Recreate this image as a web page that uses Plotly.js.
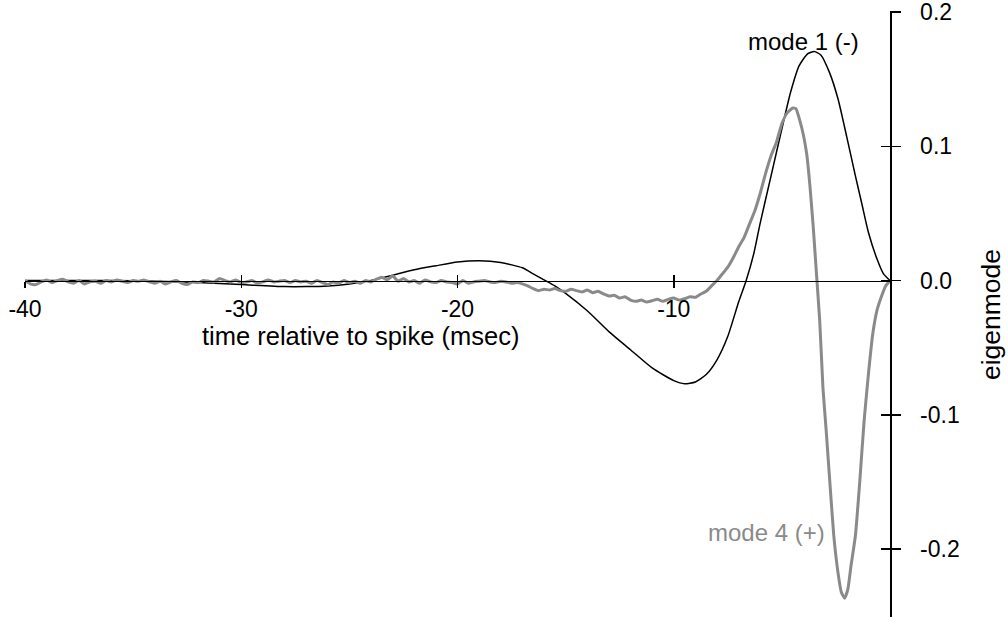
<!DOCTYPE html>
<html>
<head>
<meta charset="utf-8">
<script src="https://cdn.plot.ly/plotly-3.0.1.min.js"></script>
<style>html,body{margin:0;padding:0;background:#fff;}#chart{width:1008px;height:619px;}</style>
</head>
<body>
<div id="chart"></div>
<script>
// ---- data ----
const xTickVals = [-40, -30, -20, -10];
const xTickText = ["-40", "-30", "-20", "-10"];
const yTickVals = [0.2, 0.1, 0.0, -0.1, -0.2];
const yTickText = ["0.2", "0.1", "0.0", "-0.1", "-0.2"];

// mode 1 (-), black smooth curve: time (ms) and value
const mode1Time = [-40, -38, -36, -34, -32, -30, -28, -27, -26, -25, -24, -23, -22, -21, -20, -19, -18, -17, -16.5, -16, -15.5, -15, -14, -13, -12, -11, -10, -9.5, -9, -8.5, -8, -7.5, -7, -6.65, -6.3, -6, -5.5, -5, -4.6, -4.2, -3.8, -3.5, -3.2, -2.8, -2.4, -2, -1.6, -1.3, -1, -0.6, -0.3, 0];
const mode1Value = [0, 0, 0, -0.0005, -0.0015, -0.003, -0.0045, -0.0045, -0.004, -0.0025, 0, 0.004, 0.008, 0.011, 0.0138, 0.0148, 0.0135, 0.0095, 0.005, 0.0005, -0.004, -0.0095, -0.0225, -0.038, -0.0515, -0.065, -0.0745, -0.0768, -0.0755, -0.070, -0.059, -0.0415, -0.016, 0, 0.02, 0.043, 0.078, 0.113, 0.14, 0.16, 0.169, 0.1705, 0.168, 0.155, 0.135, 0.107, 0.078, 0.057, 0.036, 0.016, 0.005, 0];

// mode 4 (+), grey noisy curve: time (ms) and value
const mode4Time = [-40, -39.75, -39.5, -39.25, -39, -38.75, -38.5, -38.25, -38, -37.75, -37.5, -37.25, -37, -36.75, -36.5, -36.25, -36, -35.75, -35.5, -35.25, -35, -34.75, -34.5, -34.25, -34, -33.75, -33.5, -33.25, -33, -32.75, -32.5, -32.25, -32, -31.75, -31.5, -31.25, -31, -30.75, -30.5, -30.25, -30, -29.75, -29.5, -29.25, -29, -28.75, -28.5, -28.25, -28, -27.75, -27.5, -27.25, -27, -26.75, -26.5, -26.25, -26, -25.75, -25.5, -25.25, -25, -24.75, -24.5, -24.25, -24, -23.75, -23.5, -23.25, -23, -22.75, -22.5, -22.25, -22, -21.75, -21.5, -21.25, -21, -20.75, -20.5, -20.25, -20, -19.75, -19.5, -19.25, -19, -18.75, -18.5, -18.25, -18, -17.75, -17.5, -17.25, -17, -16.75, -16.5, -16.25, -16, -15.75, -15.5, -15.25, -15, -14.75, -14.5, -14.25, -14, -13.75, -13.5, -13.25, -13, -12.75, -12.5, -12.25, -12, -11.75, -11.5, -11.25, -11, -10.75, -10.5, -10.25, -10, -9.75, -9.5, -9.25, -9, -8.75, -8.5, -8.25, -8, -7.75, -7.5, -7.25, -7, -6.75, -6.5, -6.25, -6, -5.75, -5.5, -5.25, -5, -4.75, -4.5, -4.35, -4.15, -4, -3.85, -3.7, -3.55, -3.4, -3.25, -3.1, -2.95, -2.8, -2.6, -2.4, -2.25, -2.1, -1.95, -1.8, -1.6, -1.4, -1.2, -1.0, -0.8, -0.6, -0.4, -0.2, 0];
const mode4Value = [0, -0.0025, -0.003, -0.001, 0.0005, -0.0015, 0, 0.001, -0.001, -0.002, 0, -0.0025, -0.001, -0.0005, -0.002, 0, -0.001, 0.0005, -0.0005, -0.0015, 0, -0.0005, 0.0005, -0.001, -0.002, -0.0005, -0.0025, -0.001, 0, -0.002, -0.003, -0.001, -0.0015, 0, -0.0005, -0.001, 0.0015, 0, -0.001, 0.0005, -0.0015, -0.001, 0, -0.002, -0.001, 0.0005, -0.001, -0.0005, 0, -0.0015, 0, -0.001, -0.0005, -0.002, 0, -0.0015, -0.003, -0.001, -0.002, 0, -0.0015, -0.0005, -0.002, 0, -0.001, 0.001, 0.0025, 0.0005, 0.0035, -0.0005, 0.0015, -0.001, 0, -0.002, 0.0005, -0.001, -0.0015, 0, -0.001, -0.0015, -0.0025, 0, -0.002, -0.001, -0.0005, 0, -0.001, -0.0015, -0.0005, -0.001, -0.002, -0.0015, -0.0025, -0.004, -0.006, -0.0075, -0.0065, -0.007, -0.006, -0.0075, -0.008, -0.0065, -0.0075, -0.0085, -0.007, -0.009, -0.008, -0.010, -0.0115, -0.011, -0.013, -0.012, -0.0145, -0.0155, -0.0145, -0.016, -0.015, -0.014, -0.0155, -0.014, -0.013, -0.0145, -0.0135, -0.012, -0.0125, -0.010, -0.008, -0.004, 0, 0.005, 0.010, 0.017, 0.025, 0.032, 0.042, 0.052, 0.065, 0.080, 0.093, 0.103, 0.117, 0.125, 0.1285, 0.128, 0.118, 0.108, 0.094, 0.070, 0.040, 0.005, -0.030, -0.080, -0.112, -0.146, -0.190, -0.218, -0.232, -0.2365, -0.230, -0.212, -0.190, -0.150, -0.105, -0.070, -0.040, -0.022, -0.012, -0.004, 0];

const labelMode1 = "mode 1 (-)";
const labelMode4 = "mode 4 (+)";
const xTitle = "time relative to spike (msec)";
const yTitle = "eigenmode";

// ---- layout ----
const FONT = "'Liberation Sans', Arial, Helvetica, sans-serif";
const yRange = [-0.2505, 0.2007];
const zeroPos = (0 - yRange[0]) / (yRange[1] - yRange[0]);

const traces = [
  {x: mode1Time, y: mode1Value, type: 'scatter', mode: 'lines', xaxis: 'x', yaxis: 'y',
   line: {color: '#000000', width: 1.5, shape: 'spline', smoothing: 0.6}, hoverinfo: 'skip', showlegend: false},
  {x: mode4Time, y: mode4Value, type: 'scatter', mode: 'lines', xaxis: 'x2', yaxis: 'y2',
   line: {color: '#8a8a8a', width: 3, shape: 'spline', smoothing: 0.4}, hoverinfo: 'skip', showlegend: false}
];

const layout = {
  width: 1008, height: 619,
  margin: {l: 25, r: 118, t: 11, b: 2, pad: 0},
  paper_bgcolor: '#ffffff', plot_bgcolor: '#ffffff',
  font: {family: FONT, color: '#000000', size: 23},
  showlegend: false,
  xaxis: {
    range: [-40, 0], anchor: 'free', position: zeroPos, side: 'bottom',
    showline: true, linecolor: '#000', linewidth: 1.5,
    showgrid: false, zeroline: false,
    ticks: 'outside', ticklen: 6, tickwidth: 1.5, tickcolor: '#000',
    tickmode: 'array', tickvals: xTickVals, ticktext: xTickText,
    tickfont: {family: FONT, size: 23, color: '#000'}, ticklabelstandoff: 1,
    ticklabeloverflow: 'allow'
  },
  xaxis2: {
    range: [-40, 0], matches: 'x', overlaying: 'x', anchor: 'free', position: zeroPos, side: 'bottom',
    showline: false, showgrid: false, zeroline: false,
    ticks: 'inside', ticklen: 6, tickwidth: 1.5, tickcolor: '#000',
    tickmode: 'array', tickvals: xTickVals, showticklabels: false
  },
  yaxis: {
    range: yRange, side: 'right', anchor: 'x',
    showline: true, linecolor: '#000', linewidth: 1.5,
    showgrid: false, zeroline: false,
    ticks: 'outside', ticklen: 9, tickwidth: 1.5, tickcolor: '#000',
    tickmode: 'array', tickvals: yTickVals, ticktext: yTickText,
    tickfont: {family: FONT, size: 23, color: '#000'}, ticklabelstandoff: 15,
    ticklabeloverflow: 'allow'
  },
  yaxis2: {
    range: yRange, matches: 'y', overlaying: 'y', side: 'right', anchor: 'x2',
    showline: false, showgrid: false, zeroline: false,
    ticks: 'inside', ticklen: 9, tickwidth: 1.5, tickcolor: '#000',
    tickmode: 'array', tickvals: yTickVals, showticklabels: false
  },
  annotations: [
    {text: xTitle, xref: 'x', yref: 'paper', x: -24.5, y: 0.4637, xanchor: 'center', yanchor: 'middle',
     showarrow: false, font: {family: FONT, size: 25.5, color: '#000'}},
    {text: yTitle, xref: 'paper', yref: 'paper', x: 1.1168, y: 0.4983, xanchor: 'center', yanchor: 'middle',
     textangle: -90, showarrow: false, font: {family: FONT, size: 26.5, color: '#000'}},
    {text: labelMode1, xref: 'x', yref: 'y', x: -4.0, y: 0.178, xanchor: 'center', yanchor: 'middle',
     showarrow: false, font: {family: FONT, size: 24, color: '#000'}},
    {text: labelMode4, xref: 'x', yref: 'y', x: -5.71, y: -0.1878, xanchor: 'center', yanchor: 'middle',
     showarrow: false, font: {family: FONT, size: 24, color: '#8a8a8a'}}
  ]
};

Plotly.newPlot('chart', traces, layout, {displayModeBar: false, staticPlot: true});
</script>
</body>
</html>
